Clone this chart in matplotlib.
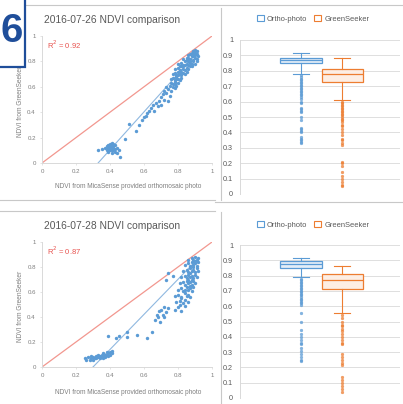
import matplotlib
matplotlib.use("Agg")
import matplotlib.pyplot as plt
from matplotlib.patches import Rectangle, Patch
from matplotlib.lines import Line2D

# ---------------- data ----------------
titles = ["2016-07-26 NDVI comparison", "2016-07-28 NDVI comparison"]
r2_labels = ["R$^2$ = 0.92", "R$^2$ = 0.87"]
xlabel = "NDVI from MicaSense provided orthomosaic photo"
ylabel = "NDVI from GreenSeeker"
series_names = ["Ortho-photo", "GreenSeeker"]

top_x = [0.33, 0.35, 0.37, 0.38, 0.38, 0.39, 0.39, 0.39, 0.40, 0.40, 0.40, 0.40, 0.41, 0.41, 0.41,
         0.42, 0.42, 0.42, 0.43, 0.43, 0.43, 0.44, 0.44, 0.45, 0.46, 0.41, 0.39, 0.42, 0.40, 0.41,
         0.49, 0.51, 0.55, 0.57, 0.59, 0.61, 0.62, 0.64, 0.65, 0.66, 0.67, 0.68, 0.69, 0.70, 0.70,
         0.71, 0.72, 0.73, 0.74, 0.75, 0.72, 0.73, 0.60, 0.63,
         0.74, 0.76, 0.77, 0.78, 0.75,
         0.76, 0.77, 0.78, 0.79, 0.80, 0.78,
         0.76, 0.77, 0.78, 0.79, 0.80, 0.81, 0.82, 0.79,
         0.77, 0.78, 0.79, 0.80, 0.81, 0.82, 0.83, 0.84, 0.80, 0.82,
         0.78, 0.80, 0.81, 0.82, 0.83, 0.84, 0.85, 0.86, 0.87, 0.83, 0.85, 0.81,
         0.80, 0.82, 0.83, 0.84, 0.85, 0.86, 0.87, 0.88, 0.89, 0.84, 0.86, 0.88, 0.90,
         0.83, 0.85, 0.86, 0.87, 0.88, 0.89, 0.90, 0.91, 0.87, 0.89, 0.85, 0.91,
         0.86, 0.87, 0.88, 0.89, 0.90, 0.91, 0.92, 0.90, 0.88,
         0.89, 0.90, 0.91]
top_y = [0.10, 0.11, 0.12, 0.10, 0.13, 0.09, 0.12, 0.14, 0.10, 0.11, 0.13, 0.15, 0.08, 0.12, 0.14,
         0.10, 0.12, 0.13, 0.11, 0.09, 0.14, 0.12, 0.08, 0.10, 0.05, 0.16, 0.11, 0.15, 0.12, 0.10,
         0.19, 0.31, 0.25, 0.30, 0.34, 0.37, 0.39, 0.43, 0.46, 0.41, 0.47, 0.45, 0.49, 0.52, 0.46,
         0.54, 0.50, 0.55, 0.49, 0.53, 0.57, 0.60, 0.36, 0.41,
         0.58, 0.57, 0.60, 0.59, 0.61,
         0.63, 0.62, 0.64, 0.61, 0.63, 0.62,
         0.66, 0.67, 0.65, 0.68, 0.66, 0.65, 0.67, 0.66,
         0.70, 0.71, 0.69, 0.72, 0.70, 0.69, 0.71, 0.70, 0.69, 0.72,
         0.74, 0.75, 0.73, 0.76, 0.74, 0.73, 0.75, 0.74, 0.76, 0.76, 0.72, 0.76,
         0.78, 0.79, 0.77, 0.80, 0.78, 0.77, 0.79, 0.78, 0.80, 0.77, 0.80, 0.76, 0.78,
         0.82, 0.81, 0.83, 0.82, 0.84, 0.81, 0.83, 0.82, 0.80, 0.84, 0.83, 0.80,
         0.85, 0.86, 0.85, 0.87, 0.85, 0.86, 0.84, 0.87, 0.87,
         0.88, 0.89, 0.88]

bot_x = [0.25, 0.26, 0.27, 0.28, 0.29, 0.30, 0.30, 0.31, 0.32, 0.32, 0.33, 0.34, 0.34, 0.35, 0.35,
         0.36, 0.36, 0.37, 0.37, 0.38, 0.38, 0.39, 0.39, 0.40, 0.40, 0.41, 0.41, 0.33, 0.29, 0.36,
         0.39, 0.435, 0.455, 0.50, 0.50, 0.56, 0.62, 0.645, 0.665, 0.675, 0.685, 0.70, 0.71, 0.72,
         0.695, 0.73, 0.74, 0.73, 0.77, 0.74, 0.69, 0.72,
         0.78, 0.80, 0.82, 0.84, 0.81,
         0.79, 0.81, 0.83, 0.84, 0.86, 0.82,
         0.78, 0.80, 0.82, 0.84, 0.85, 0.86, 0.87,
         0.80, 0.82, 0.83, 0.85, 0.86, 0.87, 0.88, 0.89, 0.84,
         0.81, 0.83, 0.84, 0.85, 0.86, 0.87, 0.88, 0.89, 0.90, 0.87,
         0.82, 0.84, 0.85, 0.86, 0.87, 0.88, 0.89, 0.90, 0.91, 0.88, 0.86,
         0.83, 0.85, 0.86, 0.87, 0.88, 0.89, 0.90, 0.91, 0.92, 0.89, 0.87,
         0.84, 0.86, 0.87, 0.88, 0.89, 0.90, 0.91, 0.92, 0.90,
         0.86, 0.88, 0.89, 0.90, 0.91, 0.92]
bot_y = [0.07, 0.06, 0.08, 0.06, 0.07, 0.08, 0.06, 0.07, 0.09, 0.07, 0.08, 0.09, 0.07, 0.10, 0.08,
         0.09, 0.11, 0.10, 0.08, 0.10, 0.12, 0.11, 0.09, 0.12, 0.10, 0.13, 0.11, 0.10, 0.09, 0.07,
         0.25, 0.23, 0.25, 0.24, 0.28, 0.26, 0.23, 0.28, 0.38, 0.42, 0.40, 0.46, 0.42, 0.48,
         0.36, 0.44, 0.47, 0.70, 0.73, 0.75, 0.45, 0.40,
         0.46, 0.48, 0.45, 0.49, 0.50,
         0.52, 0.53, 0.51, 0.54, 0.52, 0.55,
         0.57, 0.58, 0.56, 0.59, 0.57, 0.58, 0.56,
         0.62, 0.63, 0.61, 0.64, 0.62, 0.63, 0.61, 0.64, 0.62,
         0.67, 0.68, 0.66, 0.69, 0.67, 0.68, 0.66, 0.69, 0.67, 0.65,
         0.72, 0.73, 0.71, 0.74, 0.72, 0.73, 0.71, 0.74, 0.72, 0.70, 0.70,
         0.77, 0.78, 0.76, 0.79, 0.77, 0.78, 0.76, 0.79, 0.77, 0.80, 0.75,
         0.82, 0.83, 0.81, 0.84, 0.82, 0.83, 0.81, 0.84, 0.85,
         0.86, 0.87, 0.86, 0.88, 0.86, 0.87]

top_trend_x = [0.33, 0.92]
top_trend_y = [0.0, 0.88]
bot_trend_x = [0.30, 0.92]
bot_trend_y = [0.0, 0.87]

# box plot statistics: [Ortho-photo, GreenSeeker]
top_q1 = [0.851, 0.730]
top_med = [0.870, 0.777]
top_q3 = [0.883, 0.810]
top_whislo = [0.779, 0.610]
top_whishi = [0.913, 0.880]
top_fliers_ortho = [0.77, 0.76, 0.75, 0.74, 0.73, 0.72, 0.71, 0.70, 0.69, 0.68, 0.67, 0.66, 0.65,
                    0.64, 0.63, 0.62, 0.60, 0.59, 0.56, 0.55, 0.54, 0.53, 0.50, 0.48, 0.43, 0.42,
                    0.41, 0.40, 0.37, 0.36, 0.35, 0.34, 0.33]
top_fliers_gs = [0.60, 0.59, 0.58, 0.57, 0.56, 0.55, 0.54, 0.53, 0.52, 0.51, 0.50, 0.49, 0.48,
                 0.47, 0.45, 0.44, 0.42, 0.40, 0.38, 0.36, 0.35, 0.33, 0.32, 0.21, 0.20, 0.18,
                 0.145, 0.12, 0.10, 0.08, 0.06, 0.05]

bot_q1 = [0.848, 0.710]
bot_med = [0.875, 0.771]
bot_q3 = [0.895, 0.808]
bot_whislo = [0.789, 0.557]
bot_whishi = [0.917, 0.865]
bot_fliers_ortho = [0.78, 0.77, 0.76, 0.75, 0.74, 0.73, 0.72, 0.71, 0.70, 0.69, 0.68, 0.67, 0.66,
                    0.65, 0.64, 0.63, 0.62, 0.61, 0.555, 0.50, 0.445, 0.42, 0.40, 0.38, 0.36,
                    0.35, 0.33, 0.31, 0.29, 0.27, 0.25, 0.24]
bot_fliers_gs = [0.54, 0.52, 0.50, 0.48, 0.47, 0.45, 0.44, 0.42, 0.40, 0.38, 0.36, 0.35, 0.29,
                 0.27, 0.25, 0.23, 0.215, 0.14, 0.12, 0.10, 0.08, 0.06, 0.04]

box_ticks = [0, 0.1, 0.2, 0.3, 0.4, 0.5, 0.6, 0.7, 0.8, 0.9, 1]
box_ticklabels = ["0", "0.1", "0.2", "0.3", "0.4", "0.5", "0.6", "0.7", "0.8", "0.9", "1"]
sc_ticks = [0, 0.2, 0.4, 0.6, 0.8, 1]
sc_ticklabels = ["0", "0.2", "0.4", "0.6", "0.8", "1"]

# ---------------- style ----------------
W, H = 403, 404
plt.rcParams['font.family'] = ['Liberation Sans', 'DejaVu Sans']
BLUE = "#5b9bd5"
ORANGE = "#ed7d31"
GRAY_TXT = "#7f7f7f"
GRID = "#d9d9d9"

fig = plt.figure(figsize=(W / 100, H / 100), dpi=100)
fig.patch.set_facecolor("white")


def ax_px(l, t, r, b):
    return fig.add_axes([l / W, 1 - b / H, (r - l) / W, (b - t) / H])


def fx(x):
    return x / W


def fy(y):
    return 1 - y / H


def scatter_panel(box, xs, ys, tx, ty, title, r2, title_y, xl_y):
    ax = ax_px(*box)
    ax.scatter(xs, ys, s=6, color=BLUE, linewidths=0, zorder=3)
    ax.plot(tx, ty, color="#8fb8e0", lw=0.8, zorder=2)
    ax.plot([0, 1], [0, 1], color="#f2978f", lw=0.9, zorder=1)
    ax.set_xlim(0, 1)
    ax.set_ylim(0, 1)
    ax.set_xticks(sc_ticks)
    ax.set_xticklabels(sc_ticklabels)
    ax.set_yticks(sc_ticks)
    ax.set_yticklabels(sc_ticklabels)
    ax.tick_params(labelsize=4.4, colors=GRAY_TXT, length=1.5, width=0.5, pad=3)
    ax.tick_params(axis='both', color=GRID)
    for s in ["top", "right"]:
        ax.spines[s].set_visible(False)
    for s in ["left", "bottom"]:
        ax.spines[s].set_color(GRID)
        ax.spines[s].set_linewidth(0.7)
    ax.text(0.03, 0.93, r2, transform=ax.transAxes, color="#e8534f", fontsize=5.5,
            va="center", ha="left")
    fig.text(fx(112), fy(title_y), title, ha="center", va="center", fontsize=7.4, color="#595959")
    fig.text(fx(128), fy(xl_y), xlabel, ha="center", va="center", fontsize=4.7, color=GRAY_TXT)
    fig.text(fx(21), fy((box[1] + box[3]) / 2 + 2), ylabel, ha="center", va="center",
             fontsize=4.7, color=GRAY_TXT, rotation=90)
    return ax


def box_panel(box, q1, med, q3, wlo, whi, fl_o, fl_g, leg_y):
    ax = ax_px(*box)
    fliers = [fl_o, fl_g]
    stats = []
    for i in range(2):
        stats.append(dict(q1=q1[i], med=med[i], q3=q3[i], whislo=wlo[i], whishi=whi[i],
                          fliers=fliers[i]))
    pos = [0.38, 0.64]
    cols = [BLUE, ORANGE]
    fills = ["#e4eef8", "#fdeee4"]
    for i in range(2):
        ax.bxp([stats[i]], positions=[pos[i]], widths=0.26, patch_artist=True, showfliers=True,
               boxprops=dict(facecolor=fills[i], edgecolor=cols[i], linewidth=0.9),
               medianprops=dict(color=cols[i], linewidth=0.9),
               whiskerprops=dict(color=cols[i], linewidth=0.8),
               capprops=dict(color=cols[i], linewidth=0.8),
               capwidths=0.1,
               flierprops=dict(marker="o", markersize=2.0, markerfacecolor=cols[i],
                               markeredgecolor=cols[i], markeredgewidth=0.3, alpha=0.75))
    ax.set_xlim(0, 1)
    ax.set_ylim(0, 1)
    ax.set_xticks([])
    ax.set_yticks(box_ticks)
    ax.set_yticklabels(box_ticklabels)
    ax.tick_params(axis='y', labelsize=5.2, colors="#595959", length=0, pad=5)
    ax.grid(axis='y', color=GRID, lw=0.6)
    ax.set_axisbelow(True)
    for s in ["top", "right", "bottom"]:
        ax.spines[s].set_visible(False)
    ax.spines["left"].set_color(GRID)
    ax.spines["left"].set_linewidth(0.7)
    handles = [Patch(facecolor="white", edgecolor=BLUE, lw=0.8),
               Patch(facecolor="white", edgecolor=ORANGE, lw=0.8)]
    fig.legend(handles, series_names, loc="center", bbox_to_anchor=(fx(313), fy(leg_y)),
               ncol=2, frameon=False, fontsize=5.4, handlelength=0.9, handleheight=0.9,
               columnspacing=1.0, handletextpad=0.4, labelcolor="#595959")
    return ax


scatter_panel((42, 36, 212, 163), top_x, top_y, top_trend_x, top_trend_y,
              titles[0], r2_labels[0], 20, 187)
scatter_panel((42, 242, 212, 367), bot_x, bot_y, bot_trend_x, bot_trend_y,
              titles[1], r2_labels[1], 226, 393)
box_panel((240, 40, 400, 194), top_q1, top_med, top_q3, top_whislo, top_whishi,
          top_fliers_ortho, top_fliers_gs, 19)
box_panel((240, 245, 400, 398), bot_q1, bot_med, bot_q3, bot_whislo, bot_whishi,
          bot_fliers_ortho, bot_fliers_gs, 225)

# panel frame lines (decoration)
frame_col = "#c8c8c8"
segs = [((25, 5), (403, 5)), ((0, 200), (215, 200)), ((0, 211), (215, 211)),
        ((221, 8), (221, 200)), ((221, 212), (221, 404)), ((215, 202), (403, 202))]
for (x0, y0), (x1, y1) in segs:
    fig.add_artist(Line2D([fx(x0), fx(x1)], [fy(y0), fy(y1)], color=frame_col, lw=0.8))

# figure label box "6"
fig.add_artist(Rectangle((fx(-5), fy(67)), (25 + 5) / W, (67 + 5) / H, facecolor="white",
                         edgecolor="#1f4e9a", lw=1.6, zorder=10))
fig.text(fx(0), fy(31), "6", ha="left", va="center", fontsize=29, fontweight="bold",
         color="#1f4e9a", zorder=11, family="Liberation Sans")

fig.savefig("out.png", dpi=100, facecolor="white")
